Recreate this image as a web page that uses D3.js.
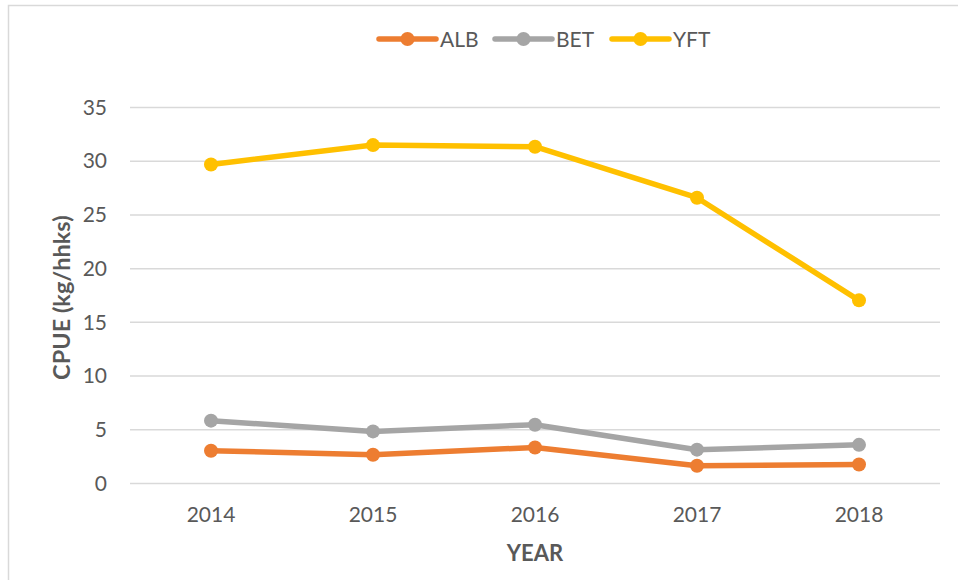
<!DOCTYPE html>
<html>
<head>
<meta charset="utf-8">
<script src="https://cdn.jsdelivr.net/npm/d3@7"></script>
<style>
  body { margin: 0; background: #fff; }
  svg { display: block; font-family: Lato, "Open Sans", sans-serif; }
</style>
</head>
<body>
<div id="chart"></div>
<script>
// data
const years = ["2014", "2015", "2016", "2017", "2018"];
const alb = [3.05, 2.68, 3.35, 1.65, 1.77];
const bet = [5.85, 4.85, 5.47, 3.15, 3.6];
const yft = [29.7, 31.5, 31.35, 26.6, 17.05];
const yTicks = [0, 5, 10, 15, 20, 25, 30, 35];

const seriesNames = ["ALB", "BET", "YFT"];
const seriesColors = ["#ED7D31", "#A5A5A5", "#FFC000"];
const seriesVals = [alb, bet, yft];

const width = 958, height = 580;
const margin = {top: 107.5, right: 18, bottom: 96.5, left: 130};

const svg = d3.select("#chart").append("svg")
  .attr("width", width)
  .attr("height", height);

// outer frame
svg.append("rect")
  .attr("x", 8.5).attr("y", 5.5)
  .attr("width", 970).attr("height", 600)
  .attr("fill", "none")
  .attr("stroke", "#d9d9d9")
  .attr("stroke-width", 1.5);

const x = d3.scaleBand()
  .domain(years)
  .range([margin.left, width - margin.right]);

const y = d3.scaleLinear()
  .domain([0, 35])
  .range([height - margin.bottom, margin.top]);

// gridlines
svg.append("g")
  .selectAll("line")
  .data(yTicks)
  .enter().append("line")
  .attr("x1", margin.left)
  .attr("x2", width - margin.right)
  .attr("y1", d => y(d))
  .attr("y2", d => y(d))
  .attr("stroke", "#d9d9d9")
  .attr("stroke-width", 1.5);

// y axis
const yAxis = d3.axisLeft(y).tickValues(yTicks).tickSize(0).tickPadding(23);
const yG = svg.append("g")
  .attr("transform", "translate(" + margin.left + ",0)")
  .call(yAxis);
yG.select(".domain").remove();
yG.selectAll("text")
  .attr("fill", "#595959")
  .style("font-size", "21px")
  .style("font-family", "Lato, sans-serif");

// x axis
const xAxis = d3.axisBottom(x).tickSize(0).tickPadding(24);
const xG = svg.append("g")
  .attr("transform", "translate(0," + y(0) + ")")
  .call(xAxis);
xG.select(".domain").remove();
xG.selectAll("text")
  .attr("fill", "#595959")
  .style("font-size", "21px")
  .style("font-family", "Lato, sans-serif");

// axis titles
svg.append("text")
  .attr("transform", "translate(70," + y(17.3) + ") rotate(-90)")
  .attr("text-anchor", "middle")
  .attr("fill", "#595959")
  .style("font-size", "23.5px")
  .style("font-weight", "bold")
  .text("CPUE (kg/hhks)");

svg.append("text")
  .attr("x", (margin.left + width - margin.right) / 2)
  .attr("y", 561)
  .attr("text-anchor", "middle")
  .attr("fill", "#595959")
  .style("font-size", "22px")
  .style("font-weight", "bold")
  .text("YEAR");

// lines
const line = d3.line()
  .x((d, i) => x(years[i]) + x.bandwidth() / 2)
  .y(d => y(d));

seriesVals.forEach(function(vals, k) {
  const g = svg.append("g");
  g.append("path")
    .datum(vals)
    .attr("d", line)
    .attr("fill", "none")
    .attr("stroke", seriesColors[k])
    .attr("stroke-width", 5.5)
    .attr("stroke-linejoin", "round");
  g.selectAll("circle")
    .data(vals)
    .enter().append("circle")
    .attr("cx", (d, i) => x(years[i]) + x.bandwidth() / 2)
    .attr("cy", d => y(d))
    .attr("r", 7)
    .attr("fill", seriesColors[k]);
});

// legend
const legX = [379, 495, 612];
const leg = svg.append("g");
seriesNames.forEach(function(name, k) {
  const lg = leg.append("g").attr("transform", "translate(" + legX[k] + ",39)");
  lg.append("line")
    .attr("x1", 0).attr("x2", 57)
    .attr("stroke", seriesColors[k])
    .attr("stroke-width", 5.5)
    .attr("stroke-linecap", "round");
  lg.append("circle")
    .attr("cx", 28.5).attr("r", 7)
    .attr("fill", seriesColors[k]);
  lg.append("text")
    .attr("x", 61).attr("y", 7.5)
    .attr("fill", "#595959")
    .style("font-size", "21px")
    .text(name);
});
</script>
</body>
</html>
